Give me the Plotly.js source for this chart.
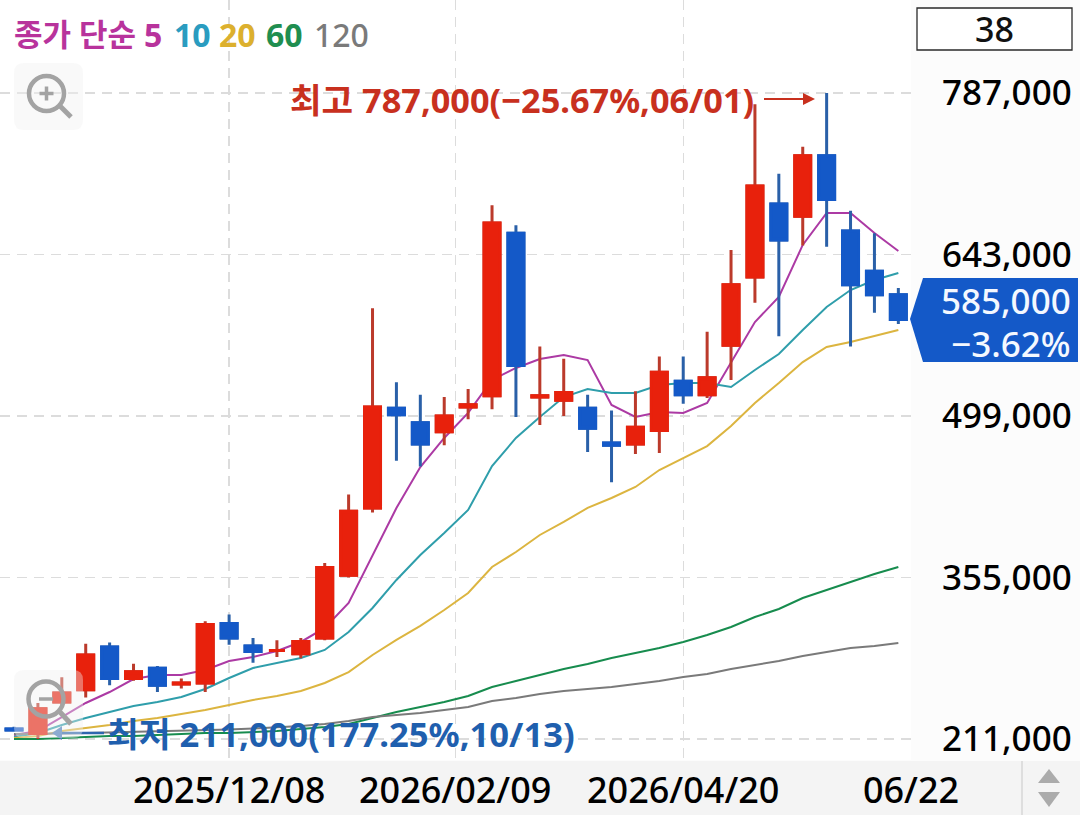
<!DOCTYPE html>
<html><head><meta charset="utf-8">
<script src="https://cdn.plot.ly/plotly-3.0.1.min.js"></script>
<style>html,body{margin:0;padding:0;background:#fcfcfc}#c{width:1080px;height:815px}</style></head>
<body><div id="c"></div>
<script>
const dates=['2025-10-06','2025-10-13','2025-10-20','2025-10-27','2025-11-03','2025-11-10','2025-11-17','2025-11-24','2025-12-01','2025-12-08','2025-12-15','2025-12-22','2025-12-29','2026-01-05','2026-01-12','2026-01-19','2026-01-26','2026-02-02','2026-02-09','2026-02-16','2026-02-23','2026-03-02','2026-03-09','2026-03-16','2026-03-23','2026-03-30','2026-04-06','2026-04-13','2026-04-20','2026-04-27','2026-05-04','2026-05-11','2026-05-18','2026-05-25','2026-06-01','2026-06-08','2026-06-15','2026-06-22'];
const openP=[220000,216000,244000,255000,293000,265000,274000,260000,261000,314000,294000,290000,287000,301000,357000,417000,506000,493000,485000,507000,517000,662000,516000,513000,506000,475000,474000,486000,530000,518000,562000,623000,688000,677000,731000,664000,628000,607000];
const highP=[222000,243000,266000,296000,297000,278000,276000,265000,316000,322000,301000,299000,301000,368000,429000,595000,529000,518000,516000,523000,687000,669000,561000,550000,518000,504000,521000,552000,552000,574000,647000,777000,715000,739000,787000,682000,662000,613000];
const lowP=[218000,211000,240000,248000,259000,263000,253000,256000,253000,295000,279000,284000,283000,299000,355000,413000,459000,454000,473000,496000,505000,498000,491000,499000,467000,440000,465000,466000,510000,515000,531000,600000,570000,651000,650000,561000,591000,581000];
const closeP=[219000,238000,252000,286000,265000,271000,259000,261000,313000,301000,289000,290000,298000,364000,414000,507000,500000,474000,499000,509000,671000,544000,517000,520000,488000,473000,489000,538000,518000,533000,616000,704000,656000,731000,692000,616000,607000,585000];
const ma5=[214600,218100,230600,243100,252900,264500,268100,268100,272500,280500,284100,289500,297500,310000,332300,375100,417000,453500,479400,501700,531100,541800,549800,553400,548900,508800,498100,502600,501700,510600,547100,582800,605100,651500,680000,680000,662100,646100];
const ma10=[212800,216300,223500,229700,235100,240400,244000,248400,255600,265400,274300,278800,283200,290400,306400,327800,352800,375100,394700,415200,454400,479400,498100,515900,523100,519500,519500,526600,528400,528400,524800,540000,554300,575700,596200,611300,620200,626500];
const ma20=[211900,213700,218100,220800,223500,227000,229700,233300,236900,241300,245800,249300,253800,260900,270700,285900,299300,311800,326000,341200,364400,377700,392900,404500,417000,425900,435700,450800,461500,472200,490100,510600,528400,547100,560500,565000,570300,575700];
const ma60=[211000,211000,211900,212800,213700,213700,214600,215500,216300,216300,217200,218100,219900,221700,224400,229700,235100,239500,244000,249300,257400,262700,268100,273400,277900,283200,287700,292100,297500,303700,310900,319800,326900,336700,343800,351000,358100,364400];
const ma120=[215500,215500,215900,216300,216800,217200,217700,218100,219000,219500,220400,221300,222600,224400,227000,230600,232400,234200,236900,239500,244900,247600,251100,253800,255600,257400,260000,262700,266300,269000,273400,277000,280500,285000,288600,292100,293900,296600];
const yTicks=[211000,355000,499000,643000,787000];
const xTicks=['2025-12-08','2026-02-12 05:00','2026-04-20','2026-06-25 17:00'];
const xLabels=['2025/12/08','2026/02/09','2026/04/20','06/22'];
const maNames=['5','10','20','60','120'];
const maColors=['#ac3aa4','#2f9eab','#dcb540','#178c4e','#7a7a7a'];
const FONT='"Noto Sans","Noto Sans CJK KR",sans-serif';
const W=911,H=760;
const px=x=>x/W, py=y=>1-y/H;
const RED='#e8210c',BLUE='#1459c8',REDW='#bb3a2b',BLUEW='#2a60a8';

const mas=[ma5,ma10,ma20,ma60,ma120];
const lines=mas.map((v,i)=>({type:'scatter',mode:'lines',x:dates,y:v,name:maNames[i],
  line:{color:maColors[i],width:2},hoverinfo:'skip',showlegend:false}));
const wicks={type:'candlestick',x:dates,open:openP,high:highP,low:lowP,close:closeP,yaxis:'y2',
  line:{width:3},showlegend:false,hoverinfo:'skip',
  increasing:{line:{color:REDW,width:3},fillcolor:RED},decreasing:{line:{color:BLUEW,width:3},fillcolor:BLUE}};
const bodies={type:'candlestick',x:dates,open:openP,close:closeP,
  high:openP.map((o,i)=>Math.max(o,closeP[i])),low:openP.map((o,i)=>Math.min(o,closeP[i])),yaxis:'y2',
  line:{width:3},showlegend:false,hoverinfo:'skip',
  increasing:{line:{color:RED,width:3},fillcolor:RED},decreasing:{line:{color:BLUE,width:3},fillcolor:BLUE}};

const rect=(x0,y0,x1,y1,o)=>Object.assign({type:'rect',xref:'paper',yref:'paper',x0:px(x0),x1:px(x1),y0:py(y0),y1:py(y1),line:{width:0}},o);
const poly=(pts,o)=>Object.assign({type:'path',xref:'paper',yref:'paper',
  path:'M'+pts.map(p=>px(p[0])+','+py(p[1])).join('L')+'Z',line:{width:0}},o);
const seg=(x0,y0,x1,y1,c,w,o)=>Object.assign({type:'line',xref:'paper',yref:'paper',x0:px(x0),x1:px(x1),y0:py(y0),y1:py(y1),line:{color:c,width:w}},o);
const circ=(cx,cy,r,c,w)=>({type:'circle',xref:'paper',yref:'paper',x0:px(cx-r),x1:px(cx+r),y0:py(cy-r),y1:py(cy+r),line:{color:c,width:w},fillcolor:'rgba(0,0,0,0)'});
function rrect(x0,y0,x1,y1,r,fill){
  const p=(x,y)=>px(x)+','+py(y);
  return {type:'path',xref:'paper',yref:'paper',line:{width:0},fillcolor:fill,
    path:'M'+p(x0+r,y0)+'L'+p(x1-r,y0)+'Q'+p(x1,y0)+' '+p(x1,y0+r)+'L'+p(x1,y1-r)+'Q'+p(x1,y1)+' '+p(x1-r,y1)+'L'+p(x0+r,y1)+'Q'+p(x0,y1)+' '+p(x0,y1-r)+'L'+p(x0,y0+r)+'Q'+p(x0,y0)+' '+p(x0+r,y0)+'Z'};
}
const GI='#a3a3a3';
const shapes=[
  rect(0,761,1080,815,{fillcolor:'#f4f4f4',layer:'below'}),
  seg(1022,761,1022,815,'#dedede',2,{layer:'below'}),
  poly([[1038,783],[1060,783],[1049,769]],{fillcolor:'#ababab'}),
  poly([[1038,792],[1060,792],[1049,807]],{fillcolor:'#ababab'}),
  rect(917,8,1072,50,{fillcolor:'#ffffff',line:{color:'#2a2a2a',width:1.3}}),
  poly([[923,278],[1078,278],[1078,362],[923,362],[910,319]],{fillcolor:BLUE}),
  seg(764,99,804,99,'#c8301e',2),
  poly([[803,93],[815,99],[803,105]],{fillcolor:'#c8301e'}),
  seg(60,733,104,733,'#2e66ae',2.5),
  poly([[52,733],[62,726],[62,740]],{fillcolor:'#4b7cbc'}),
  rrect(14,63,83,130,10,'rgba(240,240,240,0.42)'),
  circ(46.5,93.5,17.5,GI,4.5),
  seg(39.5,93.5,53.5,93.5,GI,3.5), seg(46.5,86.5,46.5,100.5,GI,3.5),
  seg(60,106,71,117,GI,5),
  rrect(14,670,83,738,10,'rgba(240,240,240,0.4)'),
  circ(46,699,17.5,GI,4.5),
  seg(39,699,53,699,GI,3.5),
  seg(60,712,71,724,GI,5)
];
const ann=(text,x,y,anchor,size,color,weight)=>({xref:'paper',yref:'paper',x:px(x),y:py(y),xanchor:anchor,yanchor:'middle',
  text:text,showarrow:false,font:{family:FONT,size:size,color:color,weight:weight}});
const annotations=[
  ann('종가 단순',12,34,'left',31,'#b8339c',700),
  ann(maNames[0],142,34,'left',32,'#b8339c',700),
  ann(maNames[1],172,34,'left',32,'#2a9cc0',700),
  ann(maNames[2],217,34,'left',32,'#dcb02e',700),
  ann(maNames[3],264,34,'left',32,'#1f8e50',700),
  ann(maNames[4],312,34,'left',32,'#7a7a7a',500),
  ann('38',995,29,'center',34,'#111111',500),
  ann('최고 787,000(−25.67%,06/01)',288,100,'left',34.3,'#c8301e',700),
  ann('최저 211,000(177.25%,10/13)',105,733,'left',34.6,'#1f5fae',700),
  ann('585,000',1073,300,'right',35,'#f4f8ff',500),
  ann('−3.62%',1073,343,'right',35,'#f4f8ff',500)
];
const layout={width:1080,height:815,margin:{l:0,r:1080-W,t:0,b:815-H,pad:0},
  paper_bgcolor:'#fcfcfc',plot_bgcolor:'#ffffff',showlegend:false,
  boxmode:'overlay',boxgap:0.331,boxgroupgap:0,
  font:{family:FONT,color:'#000000',size:33},
  xaxis:{type:'date',range:['2025-10-01 21:30','2026-06-25 17:00'],tickmode:'array',tickvals:xTicks,ticktext:xLabels,
    showgrid:true,gridcolor:'#dcdcdc',gridwidth:1.3,griddash:'10px,7px',zeroline:false,showline:false,ticks:'',
    tickfont:{family:FONT,size:36,color:'#000000',weight:500},ticklabelstandoff:6,rangeslider:{visible:false},fixedrange:true},
  yaxis:{range:[192276,869892],side:'right',tickmode:'array',tickvals:yTicks,ticktext:yTicks.map(v=>v.toLocaleString('en-US')),
    showgrid:true,gridcolor:'#dcdcdc',gridwidth:1.3,griddash:'10px,7px',zeroline:false,showline:false,ticks:'',
    tickfont:{family:FONT,size:35,color:'#000000',weight:500},ticklabelstandoff:30,fixedrange:true},
  yaxis2:{range:[192276,869892],overlaying:'y',side:'right',visible:false,fixedrange:true},
  shapes,annotations,hovermode:false};
Plotly.newPlot('c',[...lines,wicks,bodies],layout,{displayModeBar:false,staticPlot:true});
</script></body></html>
